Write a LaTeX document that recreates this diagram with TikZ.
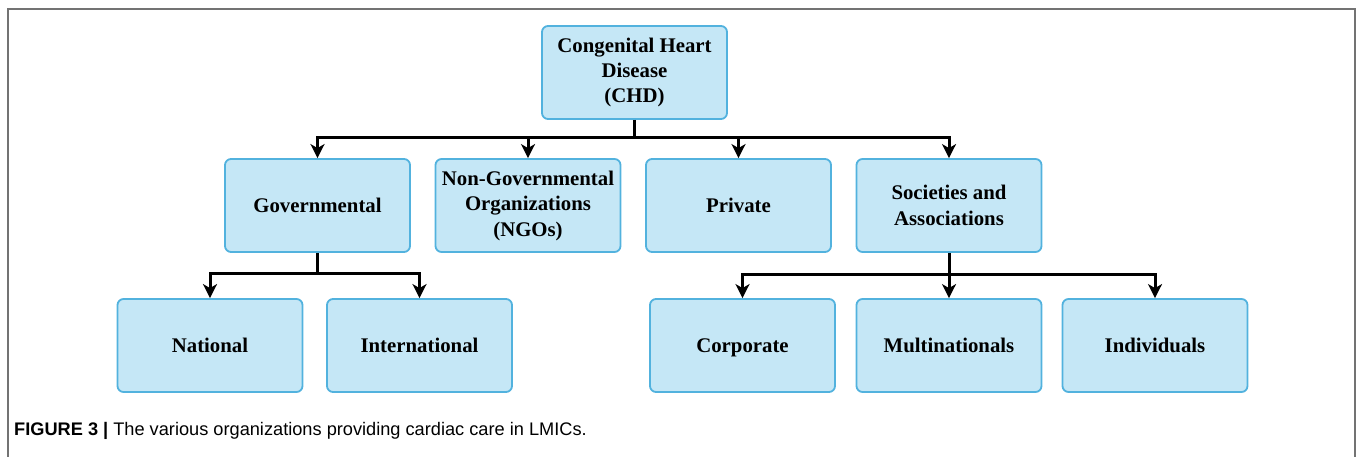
\documentclass[tikz,border=0pt]{standalone}
\usepackage{fontspec}
\setmainfont{Liberation Serif}
\newfontfamily\capfont{Liberation Sans}
\usepackage{xcolor}
\usetikzlibrary{arrows.meta}
\definecolor{orgfill}{RGB}{197,231,246}
\definecolor{orgline}{RGB}{82,178,222}

\begin{document}
\begin{tikzpicture} [x=1pt, y=-1pt,
    org/.style={draw=orgline, fill=orgfill, line width=1.8pt, rounded corners=6pt,
      minimum width=185pt, minimum height=93pt, inner sep=0pt, align=center,
      font=\fontsize{20.8}{25.5}\selectfont\bfseries},
    one/.style={org, text height=16pt, text depth=2pt},
    link/.style={line width=3pt, -{Stealth[length=14pt,width=14pt,inset=4pt]}},
    bar/.style={line width=3pt}
  ]
  \useasboundingbox (0,0) rectangle (1358,457);
  % frame
  \draw[black!55, line width=1.5pt] (8,457) -- (8,9) -- (1355,9) -- (1355,457);

  % top
  \node[org] (chd) at (634.5,72.5) {Congenital Heart\\Disease\\(CHD)};
  % second row
  \node[one] (gov) at (317.5,205.5) {Governmental};
  \node[org] (ngo) at (528,205.5) {Non-Governmental\\Organizations\\(NGOs)};
  \node[one] (priv) at (738.5,205.5) {Private};
  \node[org] (soc) at (949,205.5) {Societies and\\Associations};
  % third row
  \node[one] (nat) at (210,345.5) {National};
  \node[one] (intl) at (419.5,345.5) {International};
  \node[one] (corp) at (742.5,345.5) {Corporate};
  \node[one] (multi) at (949,345.5) {Multinationals};
  \node[one] (indiv) at (1155,345.5) {Individuals};

  %TODO: buses
  \coordinate (chdbus) at (634.5,138);
  \coordinate (govbus) at (317.5,274);
  \coordinate (socbus) at (949,275);

  \draw[bar] (chd) -- (chdbus);
  \draw[link] (chdbus) -| (gov);
  \draw[link] (chdbus) -| (ngo);
  \draw[link] (chdbus) -| (priv);
  \draw[link] (chdbus) -| (soc);

  \draw[bar] (gov) -- (govbus);
  \draw[link] (govbus) -| (nat);
  \draw[link] (govbus) -| (intl);

  \draw[bar] (soc) -- (socbus);
  \draw[link] (socbus) -| (corp);
  \draw[link] (socbus) -- (multi);
  \draw[link] (socbus) -| (indiv);

  % caption
  \node[anchor=base west, inner sep=0pt, font=\capfont\fontsize{18.2}{22}\selectfont] (cap) at (14,435)
    {\textbf{FIGURE 3 |} The various organizations providing cardiac care in LMICs.};
\end{tikzpicture}
\end{document}
